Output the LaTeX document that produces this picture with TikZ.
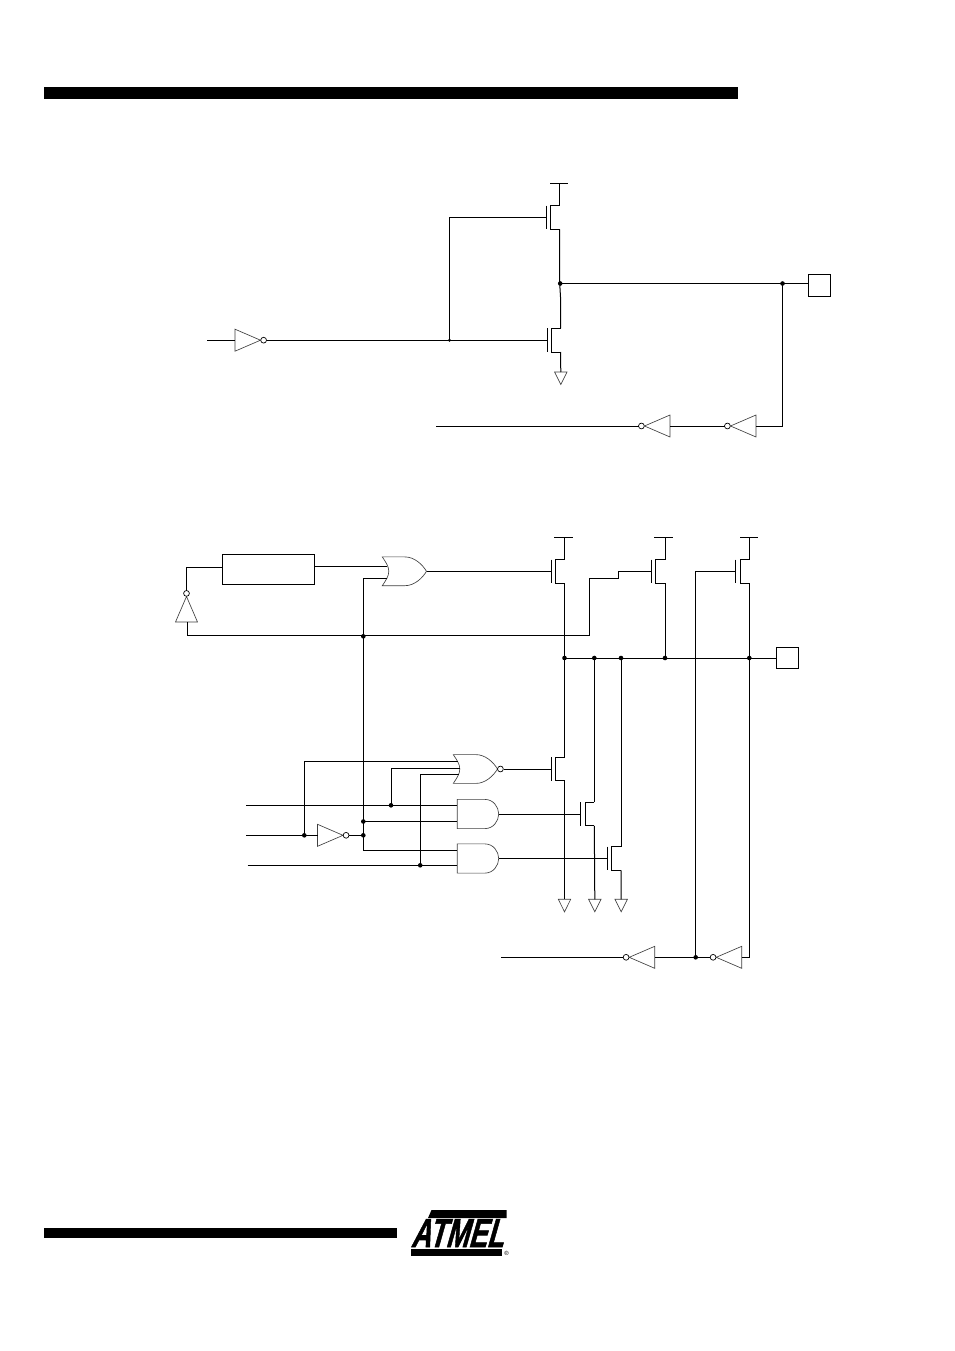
\documentclass[tikz,border=0pt]{standalone}
\usepackage{fontspec}
\usepackage{graphicx}
\setmainfont{Liberation Sans}
\newfontfamily\logofont[BoldFont={Liberation Sans},BoldFeatures={FakeBold=1.6},ItalicFont={Liberation Sans Bold},ItalicFeatures={FakeSlant=0.42,FakeBold=1.6}]{Liberation Sans Bold}
\tikzset{
  wire/.style={line width=1pt,line join=miter,black},
  gateline/.style={line width=0.65pt,draw=black!75,fill=white,line join=miter},
  bubble/.style={line width=0.7pt,draw=black,fill=white},
  dot/.style={circle,fill=black,inner sep=0pt,minimum size=4.6pt},
  smalldot/.style={circle,fill=black,inner sep=0pt,minimum size=3.2pt},
  bigbar/.style={fill=black,draw=none},
  boxed/.style={draw=black,line width=1pt,fill=white,inner sep=0pt,anchor=north west}
}
% MOS transistor: name, x of leads, y of gate
\newcommand{\mosfet}[3]{%
  \coordinate (#1g) at (#2-13.5,#3);
  \coordinate (#1d) at (#2,#3-11.8);
  \coordinate (#1s) at (#2,#3+11.8);
  \draw[wire] (#1d) -- (#2-9.3,#3-11.8) -- (#2-9.3,#3+11.8) -- (#1s);
  \draw[wire] (#2-13.5,#3-11.8) -- (#2-13.5,#3+11.8);
}
% inverter: name, x, y of base centre, rotation
\newcommand{\inverter}[4]{%
  \begin{scope}[shift={(#2,#3)},rotate=#4]
    \coordinate (#1i) at (0,0);
    \coordinate (#1o) at (31.5,0);
    \draw[gateline] (0,-11) -- (25.5,0) -- (0,11) -- cycle;
    \draw[bubble] (28.6,0) circle[radius=2.9];
  \end{scope}
}
\newcommand{\groundsym}[3]{%
  \coordinate (#1) at (#2,#3);
  \draw[gateline] (#2-6.2,#3) -- (#2+6.2,#3) -- (#2,#3+12.5) -- cycle;
}
\newcommand{\andgate}[3]{%
  \coordinate (#1o) at (#2+41.4,#3);
  \draw[gateline] (#2+27.7,#3-14.6) -- (#2,#3-14.6) -- (#2,#3+14.6) -- (#2+27.7,#3+14.6)
    .. controls (#2+36,#3+14.6) and (#2+41.4,#3+7) .. (#2+41.4,#3)
    .. controls (#2+41.4,#3-7) and (#2+36,#3-14.6) .. cycle;
}
\newcommand{\orgate}[3]{%
  \coordinate (#1o) at (#2+44.2,#3);
  \draw[gateline] (#2,#3-14.4) -- (#2+22.5,#3-14.4)
    .. controls (#2+32,#3-14.4) and (#2+40,#3-7) .. (#2+44.2,#3)
    .. controls (#2+40,#3+7) and (#2+32,#3+14.4) .. (#2+22.5,#3+14.4)
    -- (#2,#3+14.4)
    .. controls (#2+3.5,#3+9) and (#2+6.5,#3+5) .. (#2+6.5,#3)
    .. controls (#2+6.5,#3-5) and (#2+3.5,#3-9) .. cycle;
}
\begin{document}
\begin{tikzpicture}[x=1pt,y=-1pt]
\useasboundingbox (0,0) rectangle (954,1351);
\fill[white] (0,0) rectangle (954,1351);
% page bars
\node[bigbar,inner sep=0pt,minimum width=694pt,minimum height=12.5pt,anchor=north west] (topbar) at (44,86.5) {};
\node[bigbar,inner sep=0pt,minimum width=353pt,minimum height=10pt,anchor=north west] (botbar) at (44,1228) {};

%%%%%%%% upper circuit
\mosfet{ua}{559.7}{217.5}
\mosfet{ub}{560.5}{340.2}
\coordinate (urailL) at (550,183.5); \coordinate (urailR) at (567.5,183.5); \coordinate (urail) at (559.7,183.5);
\draw[wire] (urailL) -- (urailR);
\draw[wire] (urail) -- (uad);
\node[dot] (un) at (560.2,283.5) {};
\draw[wire] (uas) -- (559.7,283.5) -- (560.5,297) -- (ubd);
\groundsym{ugnd}{560.8}{372}
\draw[wire] (ubs) -- (ugnd);
\inverter{uinv}{235}{340.2}{0}
\coordinate (uin) at (207,340.2);
\draw[wire] (uin) -- (uinvi);
\node[smalldot] (ug) at (449.5,340.2) {};
\draw[wire] (uinvo) -- (ug.center) -- (ubg);
\draw[wire] (ug.center) |- (uag);
\node[boxed,minimum width=22pt,minimum height=22pt] (upad) at (807.5,273.5) {};
\node[dot] (uo) at (782.5,283.5) {};
\draw[wire] (un.center) -- (uo.center);
\draw[wire] (uo.center) -- (uo.center -| upad.west);
\inverter{ufb}{756}{426}{180}
\inverter{ufc}{670}{426}{180}
\draw[wire] (uo.center) |- (ufbi);
\draw[wire] (ufbo) -- (ufci);
\coordinate (uout) at (436,426);
\draw[wire] (ufco) -- (uout);

%%%%%%%% lower circuit: pull-up part
\node[boxed,minimum width=92pt,minimum height=30.5pt] (delay) at (222.3,553.5) {};
\inverter{linv}{186.5}{622}{90}
\coordinate (lj1) at (186.5,567.3);
\draw[wire] (linvo) -- (lj1) -- (lj1 -| delay.west);
\orgate{lor}{382.3}{571.3}
\coordinate (lor1) at (387,566.2); \coordinate (lor2) at (387,578.3);
\coordinate (delout) at (314.8,566.2);
\draw[wire] (delout) -- (lor1);
\mosfet{ta}{564.5}{571.3}
\mosfet{tb}{665}{571.3}
\mosfet{tc}{749.3}{571.3}
\coordinate (tarL) at (554,537); \coordinate (tarR) at (572.7,537); \coordinate (tar) at (564.5,537);
\coordinate (tbrL) at (654,537); \coordinate (tbrR) at (672.7,537); \coordinate (tbr) at (665,537);
\coordinate (tcrL) at (740,537); \coordinate (tcrR) at (758,537); \coordinate (tcr) at (749.3,537);
\draw[wire] (tarL) -- (tarR); \draw[wire] (tar) -- (tad);
\draw[wire] (tbrL) -- (tbrR); \draw[wire] (tbr) -- (tbd);
\draw[wire] (tcrL) -- (tcrR); \draw[wire] (tcr) -- (tcd);
\draw[wire] (loro) -- (tag);
% feedback
\node[dot] (lf) at (363.3,636.3) {};
\coordinate (lfa) at (187.3,622); \coordinate (lfb) at (187.3,635.5);
\coordinate (lfc) at (589.3,635.5); \coordinate (lfd) at (589.3,578); \coordinate (lfe) at (618.7,578);
\coordinate (lff) at (618.7,571.3);
\draw[wire] (lfa) -- (lfb) -- (lfc) -- (lfd) -- (lfe);
\draw[wire] (lfe) -- (lff) -- (tbg);
% bus
\node[boxed,minimum width=21.8pt,minimum height=21.8pt] (lpad) at (776,646.6) {};
\node[dot] (b1) at (564.5,658) {};
\node[dot] (b2) at (594.3,658) {};
\node[dot] (b3) at (621,658) {};
\node[dot] (b4) at (665,658) {};
\node[dot] (b5) at (749.3,658) {};
\draw[wire] (b1.center) -- (b1.center -| lpad.west);
\draw[wire] (tas) -- (b1.center);
\draw[wire] (tbs) -- (b4.center);
\draw[wire] (tcs) -- (b5.center);
% pull-down transistors
\mosfet{td}{564.5}{769}
\mosfet{te}{594.3}{814}
\mosfet{tf}{621}{858.5}
\draw[wire] (b1.center) -- (tdd);
\draw[wire] (b2.center) -- (ted);
\draw[wire] (b3.center) -- (tfd);
\groundsym{g1}{564.5}{899.3}
\groundsym{g2}{594.8}{899.3}
\groundsym{g3}{621.2}{899.3}
\draw[wire] (tds) -- (g1);
\draw[wire] (tes) -- (g2);
\draw[wire] (tfs) -- (g3);
% logic gates
\orgate{nor}{453.3}{769}
\node[circle,draw=black,line width=0.7pt,fill=white,inner sep=0pt,minimum size=5.8pt] (nbub) at (500.4,769) {};
\andgate{ana}{457.3}{814}
\andgate{anb}{457.3}{858.5}
\draw[wire] (nbub) -- (tdg);
\draw[wire] (anao) -- (teg);
\draw[wire] (anbo) -- (tfg);
\inverter{linb}{317.5}{835.3}{0}
\coordinate (ia) at (246,805.3);
\coordinate (ib) at (246,835.3);
\coordinate (ic) at (247.5,865.3);
\node[dot] (d1) at (391,805.3) {};
\node[dot] (d2) at (304.3,835.3) {};
\node[dot] (d3) at (420.2,865.3) {};
\node[dot] (d4) at (363.3,821.5) {};
\node[dot] (d5) at (363.3,835.3) {};
\coordinate (vtop) at (363.3,578.3);
\coordinate (vbot) at (363.3,850);
\coordinate (anb1) at (457.3,850);
\draw[wire] (lor2) -- (vtop) -- (vbot) -- (anb1);
\coordinate (ana1) at (457.3,805.3); \coordinate (ana2) at (457.3,821.5);
\coordinate (anb2) at (457.3,865.3);
\coordinate (nor1) at (457.5,761.7); \coordinate (nor2) at (459.5,768.3); \coordinate (nor3) at (458.8,774.3);
\draw[wire] (ia) -- (ana1);
\draw[wire] (d4.center) -- (ana2);
\draw[wire] (ib) -- (linbi);
\draw[wire] (linbo) -- (d5.center);
\draw[wire] (ic) -- (anb2);
\draw[wire] (d2.center) |- (nor1);
\draw[wire] (d1.center) |- (nor2);
\draw[wire] (d3.center) |- (nor3);
% output sense
\inverter{lsa}{741.7}{957.3}{180}
\inverter{lsb}{654.7}{957.3}{180}
\coordinate (tcb) at (749.3,957.3);
\draw[wire] (tcs) -- (tcb) -- (lsai);
\node[dot] (sj) at (695.7,957.3) {};
\draw[wire] (lsao) -- (sj.center);
\draw[wire] (sj.center) -- (lsbi);
\draw[wire] (sj.center) |- (tcg);
\coordinate (lout) at (501,957.3);
\draw[wire] (lsbo) -- (lout);

%%%%%%%% logo
\fill[black] (431.5,1210) -- (506.5,1210) -- (506.5,1218) -- (428,1218) -- cycle;
\node[inner sep=0pt,anchor=south west] (logotext) at (410.5,1247.3)
  {\resizebox{92.5pt}{28pt}{\logofont\itshape ATMEL}};
\fill[black] (411,1249) -- (501.5,1249) -- (501.5,1256) -- (411,1256) -- cycle;
\node[inner sep=0pt,font=\fontsize{6pt}{6pt}\selectfont] (logoreg) at (506.5,1253.5) {®};
\end{tikzpicture}
\end{document}
